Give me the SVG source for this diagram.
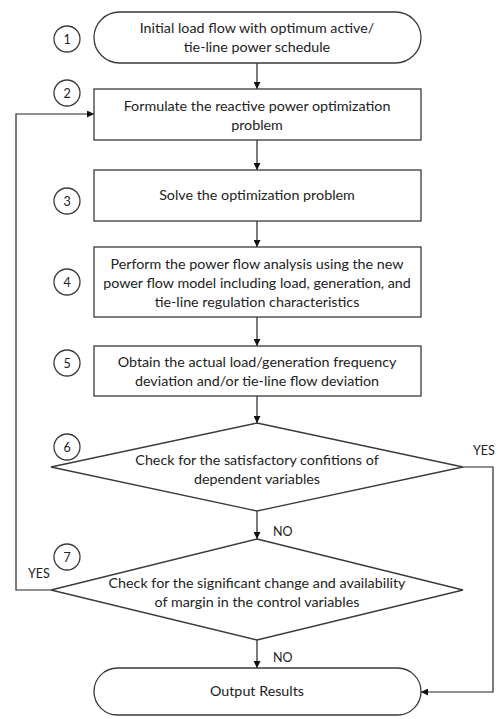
<svg xmlns="http://www.w3.org/2000/svg" width="498" height="719" viewBox="0 0 498 719">
<style>
.s{fill:#fff;stroke:#3a3a3a;stroke-width:1.3}
.c{fill:none;stroke:#3a3a3a;stroke-width:1.3}
.l{fill:none;stroke:#222;stroke-width:1.2}
text{font-family:Lato,"Liberation Sans",sans-serif;font-size:14.3px;fill:#222;text-anchor:middle}
.n{font-size:12.5px}
.lab{font-size:12.5px;text-anchor:start}
</style>
<defs>
<marker id="a" viewBox="0 0 10 10" refX="10" refY="5" markerWidth="7" markerHeight="7" markerUnits="userSpaceOnUse" orient="auto">
<path d="M0,0 L10,5 L0,10 z" fill="#111"/>
</marker>
</defs>
<g id="connectors">
<path class="l" d="M257,63 V89" marker-end="url(#a)"/>
<path class="l" d="M257,140 V170" marker-end="url(#a)"/>
<path class="l" d="M257,221 V247" marker-end="url(#a)"/>
<path class="l" d="M257,317 V346" marker-end="url(#a)"/>
<path class="l" d="M257,396 V423" marker-end="url(#a)"/>
<path class="l" d="M257,511 V539" marker-end="url(#a)"/>
<path class="l" d="M257,640 V668" marker-end="url(#a)"/>
<path class="l" d="M463,467 H493 V692 H421" marker-end="url(#a)"/>
<path class="l" d="M51,590 H16 V114 H94" marker-end="url(#a)"/>
<text class="lab" x="473" y="455">YES</text>
<text class="lab" x="273" y="536">NO</text>
<text class="lab" x="28" y="578">YES</text>
<text class="lab" x="273" y="662">NO</text>
</g>
<g id="n1">
<rect class="s" x="94" y="12" width="327" height="51" rx="25.5"/>
<text x="257" y="33">Initial load flow with optimum  active/</text>
<text x="257" y="52">tie-line power schedule</text>
</g>
<g id="c1"><circle class="c" cx="67" cy="39" r="13"/><text class="n" x="67" y="43.5">1</text></g>
<g id="n2">
<rect class="s" x="94" y="89" width="327" height="51"/>
<text x="257" y="111">Formulate the reactive power  optimization</text>
<text x="257" y="130">problem</text>
</g>
<g id="c2"><circle class="c" cx="67" cy="93" r="13"/><text class="n" x="67" y="97.5">2</text></g>
<g id="n3">
<rect class="s" x="94" y="170" width="327" height="51"/>
<text x="257" y="200">Solve the optimization problem</text>
</g>
<g id="c3"><circle class="c" cx="67" cy="201" r="13"/><text class="n" x="67" y="205.5">3</text></g>
<g id="n4">
<rect class="s" x="94" y="247" width="327" height="70"/>
<text x="257" y="269">Perform the power flow analysis using the new</text>
<text x="257" y="288">power flow model including load, generation, and</text>
<text x="257" y="307">tie-line regulation characteristics</text>
</g>
<g id="c4"><circle class="c" cx="67" cy="282" r="13"/><text class="n" x="67" y="286.5">4</text></g>
<g id="n5">
<rect class="s" x="94" y="346" width="327" height="50"/>
<text x="257" y="367">Obtain the actual load/generation frequency</text>
<text x="257" y="386">deviation and/or tie-line flow deviation</text>
</g>
<g id="c5"><circle class="c" cx="67" cy="363" r="13"/><text class="n" x="67" y="367.5">5</text></g>
<g id="n6">
<polygon class="s" points="257,423 463,467 257,511 51,467"/>
<text x="257" y="465">Check for the satisfactory confitions of</text>
<text x="257" y="484">dependent variables</text>
</g>
<g id="c6"><circle class="c" cx="67" cy="447" r="13"/><text class="n" x="67" y="451.5">6</text></g>
<g id="n7">
<polygon class="s" points="257,539 463,590 257,640 51,590"/>
<text x="257" y="588">Check for the significant change and availability</text>
<text x="257" y="607">of margin in the control variables</text>
</g>
<g id="c7"><circle class="c" cx="67" cy="557" r="13"/><text class="n" x="67" y="561.5">7</text></g>
<g id="n8">
<rect class="s" x="94" y="668" width="327" height="47" rx="23.5"/>
<text x="257" y="696">Output Results</text>
</g>
</svg>
